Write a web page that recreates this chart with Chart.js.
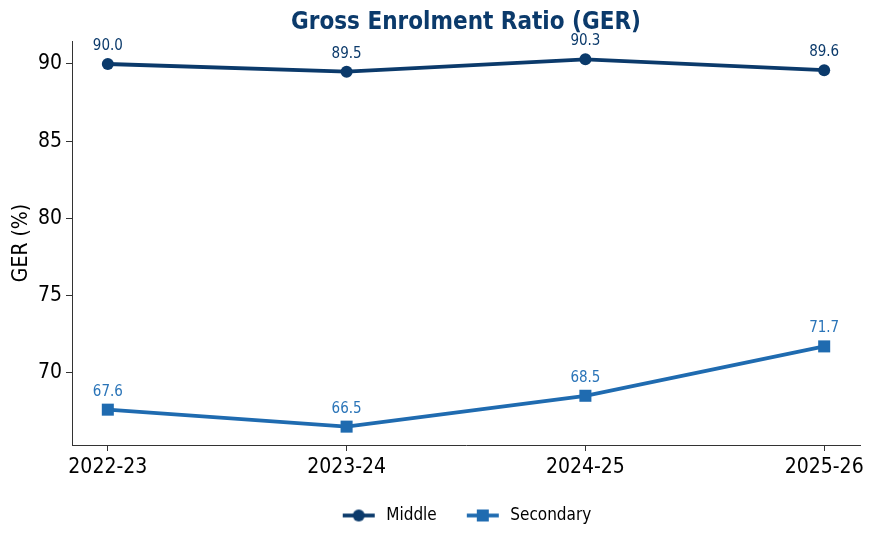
<!DOCTYPE html>
<html>
<head>
<meta charset="utf-8">
<script src="https://cdn.jsdelivr.net/npm/chart.js@4"></script>
<style>
  html, body { margin: 0; padding: 0; background: #fff; }
  #wrap { width: 875px; height: 542px; }
</style>
</head>
<body>
<div id="wrap"><canvas id="ger_chart"></canvas></div>
<script>
const years = ['2022-23', '2023-24', '2024-25', '2025-26'];
const middle = [90.0, 89.5, 90.3, 89.6];
const secondary = [67.6, 66.5, 68.5, 71.7];
const yTicks = [70, 75, 80, 85, 90];
const titleText = 'Gross Enrolment Ratio (GER)';

const NAVY = '#0b3a6b';
const BLUE = '#1f6bb0';
const FONT = "'DejaVu Sans Condensed', 'DejaVu Sans', sans-serif";

// legend swatch: short line with the marker on it (blank margin on the left = gap between entries)
function swatch(color, shape) {
    const c = document.createElement('canvas');
    c.width = 53; c.height = 16;
    const g = c.getContext('2d');
    g.strokeStyle = color; g.lineWidth = 3.8;
    g.beginPath(); g.moveTo(18, 8); g.lineTo(50, 8); g.stroke();
    g.fillStyle = color;
    if (shape === 'circle') { g.beginPath(); g.arc(34, 8, 6, 0, Math.PI * 2); g.fill(); }
    else g.fillRect(28, 2, 12, 12);
    return c;
}

// value labels above points, title centred over the plot area, legend nudged to the plot centre
const extras = {
    id: 'extras',
    afterLayout(chart) {
        chart.legend.left += 28;
        chart.legend.right += 28;
    },
    afterDatasetsDraw(chart) {
        const ctx = chart.ctx;
        ctx.save();
        ctx.font = '15px ' + FONT;
        ctx.textAlign = 'center';
        ctx.textBaseline = 'middle';
        chart.data.datasets.forEach((ds, i) => {
            ctx.fillStyle = ds.labelColor;
            chart.getDatasetMeta(i).data.forEach((pt, j) => {
                ctx.fillText(ds.data[j].y.toFixed(1), pt.x, pt.y - 18);
            });
        });
        const a = chart.chartArea;
        ctx.font = 'bold 24px ' + FONT;
        ctx.fillStyle = NAVY;
        ctx.fillText(titleText, (a.left + a.right) / 2, 23);
        ctx.restore();
    }
};

const ctx = document.getElementById('ger_chart').getContext('2d');
new Chart(ctx, {
    type: 'line',
    data: {
        datasets: [
            { label: 'Middle', data: middle.map((v, i) => ({ x: i, y: v })), borderColor: NAVY, backgroundColor: NAVY,
              borderWidth: 3.8, pointStyle: 'circle', pointRadius: 6, pointHoverRadius: 6, pointBorderWidth: 0,
              labelColor: NAVY, swatch: swatch(NAVY, 'circle') },
            { label: 'Secondary', data: secondary.map((v, i) => ({ x: i, y: v })), borderColor: BLUE, backgroundColor: BLUE,
              borderWidth: 3.8, pointStyle: 'rect', pointRadius: 8.5, pointHoverRadius: 8.5, pointBorderWidth: 0,
              labelColor: '#2a74b8', swatch: swatch(BLUE, 'rect') }
        ]
    },
    options: {
        responsive: true,
        maintainAspectRatio: false,
        animation: false,
        layout: { padding: { left: 0, right: 15, top: 41, bottom: 8 } },
        plugins: {
            title: { display: false },
            legend: { position: 'bottom',
                      labels: { usePointStyle: true, pointStyleWidth: 53, color: '#000', font: { family: FONT, size: 17 },
                                padding: 12,
                                generateLabels: (chart) => chart.data.datasets.map((ds, i) => ({
                                    text: ds.label, pointStyle: ds.swatch, datasetIndex: i, fontColor: '#000',
                                    strokeStyle: ds.borderColor, fillStyle: ds.borderColor, lineWidth: 0 })) } },
            tooltip: { enabled: false }
        },
        scales: {
            x: { type: 'linear', min: -0.15, max: 3.15,
                 afterBuildTicks: (s) => { s.ticks = years.map((_, i) => ({ value: i })); },
                 afterFit: (s) => { s.height = 50; },
                 ticks: { callback: (v) => years[v], color: '#000', font: { family: FONT, size: 21 }, padding: 4, maxRotation: 0 },
                 grid: { drawOnChartArea: false, tickLength: 6, tickColor: '#333', tickWidth: 1 },
                 border: { color: '#333', width: 1 } },
            y: { min: 65.31, max: 91.49,
                 afterBuildTicks: (s) => { s.ticks = yTicks.map(v => ({ value: v })); },
                 afterFit: (s) => { s.width = 72; },
                 ticks: { color: '#000', font: { family: FONT, size: 21 }, padding: 4 },
                 title: { display: true, text: 'GER (%)', color: '#000', font: { family: FONT, size: 21 }, padding: 9 },
                 grid: { drawOnChartArea: false, tickLength: 6, tickColor: '#333', tickWidth: 1 },
                 border: { color: '#333', width: 1 } }
        }
    },
    plugins: [extras]
});
</script>
</body>
</html>
